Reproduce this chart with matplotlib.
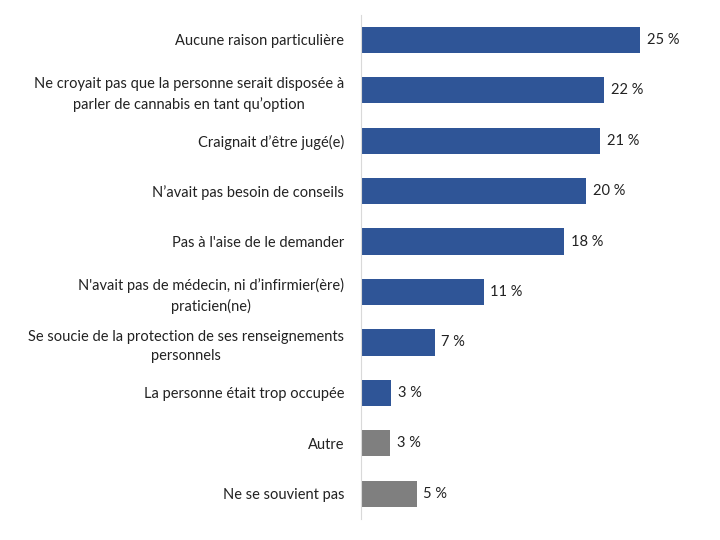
import matplotlib.pyplot as plt

categories = [
    "Aucune raison particulière",
    "Ne croyait pas que la personne serait disposée à\nparler de cannabis en tant qu\u2019option",
    "Craignait d\u2019être jugé(e)",
    "N\u2019avait pas besoin de conseils",
    "Pas à l'aise de le demander",
    "N'avait pas de médecin, ni d\u2019infirmier(ère)\npraticien(ne)",
    "Se soucie de la protection de ses renseignements\npersonnels",
    "La personne était trop occupée",
    "Autre",
    "Ne se souvient pas",
]
values = [25.0, 21.8, 21.4, 20.2, 18.2, 11.0, 6.6, 2.7, 2.6, 5.0]
colors = ["#2F5597"] * 8 + ["#7F7F7F"] * 2

plt.rcParams['font.family'] = ['Lato', 'DejaVu Sans']

fig = plt.figure(figsize=(7.2, 5.4), dpi=100)
ax = fig.add_axes([361 / 720, 0.039, 30 * 11.16 / 720, 0.934])

y = list(range(len(categories)))
ax.barh(y, values, height=0.52, color=colors)
ax.set_ylim(len(categories) - 0.5, -0.5)
ax.set_xlim(0, 30)

for yi, v in zip(y, values):
    ax.text(v + 0.6, yi, f"{v:.0f} %", va='center', ha='left', fontsize=10.5, color='#222222')

ax.set_yticks(y)
ax.set_yticklabels(categories, fontsize=10.5, color='#222222')
for t in ax.get_yticklabels():
    t.set_multialignment('center')
    t.set_linespacing(1.45)
ax.tick_params(axis='y', length=0, pad=12)
ax.set_xticks([])
for s in ['top', 'right', 'bottom']:
    ax.spines[s].set_visible(False)
ax.spines['left'].set_color('#D9D9D9')

fig.savefig('out.png', dpi=100)
